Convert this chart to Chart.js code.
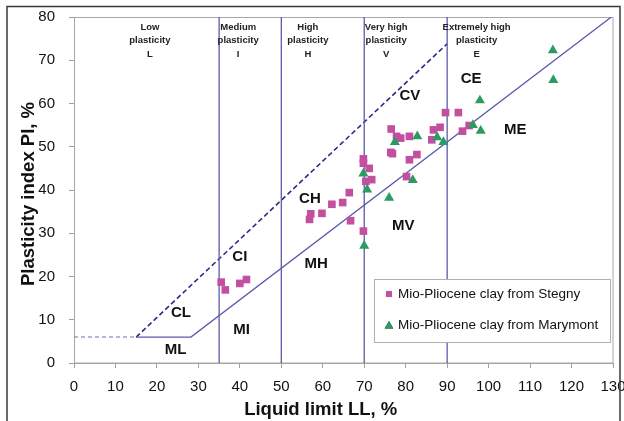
<!DOCTYPE html>
<html>
<head>
<title>Plasticity chart</title>
<script src="https://cdn.jsdelivr.net/npm/chart.js@4.4.0/dist/chart.umd.min.js"></script>
<style>
    body { margin: 0; background: #fff; }
    #wrap { width: 624px; height: 421px; }
</style>
</head>
<body>
<div id="wrap"><canvas id="plasticityChart" width="624" height="421"></canvas></div>
<script>
    // Stegny samples (liquid limit LL, plasticity index PI)
    const stegnyLL = [35.5, 36.5, 40.0, 41.6, 57.1, 56.8, 59.8, 62.2, 64.8, 66.4, 66.7, 69.8, 69.8, 71.2, 70.4, 71.8, 69.8,
        76.5, 77.8, 78.8, 80.9, 76.4, 76.8, 82.7, 80.9, 80.2, 86.7, 88.3, 86.3, 89.6, 92.7, 93.7, 95.3];
    const stegnyPI = [18.7, 16.9, 18.4, 19.3, 34.5, 33.2, 34.6, 36.7, 37.1, 39.4, 32.9, 47.2, 46.2, 45.0, 42.0, 42.4, 30.5,
        54.1, 52.4, 52.0, 52.4, 48.7, 48.4, 48.2, 47.0, 43.1, 53.9, 54.5, 51.6, 57.9, 57.9, 53.6, 54.9];

    // Marymont samples
    const marymontLL = [69.8, 70.7, 70.0, 76.0, 77.4, 82.8, 81.7, 87.6, 89.1, 96.2, 98.1, 97.9, 115.5, 115.6];
    const marymontPI = [43.8, 40.1, 27.1, 38.2, 51.1, 52.4, 42.3, 52.2, 51.1, 55.0, 53.7, 60.7, 72.3, 65.4];

    const seriesNames = ["Mio-Pliocene clay from Stegny", "Mio-Pliocene clay from Marymont"];

    // classification boundaries
    const zoneLimits = [35, 50, 70, 90];
    const aLineLL = [15, 28.2, 129.6];
    const aLinePI = [6, 6, 80];
    const baseLL = [0, 15];
    const basePI = [6, 6];
    const uLineLL = [15, 90];
    const uLinePI = [6, 73.8];

    const xTicks = [0, 10, 20, 30, 40, 50, 60, 70, 80, 90, 100, 110, 120, 130];
    const yTicks = [0, 10, 20, 30, 40, 50, 60, 70, 80];

    const zoneHeaders = [
        ["Low", "plasticity", "L"],
        ["Medium", "plasticity", "I"],
        ["High", "plasticity", "H"],
        ["Very high", "plasticity", "V"],
        ["Extremely high", "plasticity", "E"],
    ];
    const regionNames = ["CL", "ML", "CI", "MI", "CH", "MH", "CV", "MV", "CE", "ME"];

    const FONT = "Arial, 'Liberation Sans', sans-serif";
    const boundaryColor = "#5a5aaa";
    const toPoints = (xs, ys) => xs.map((v, i) => ({ x: v, y: ys[i] }));

    const lineSet = (data, color, width, dash) => ({
        type: "line",
        data: data,
        borderColor: color,
        borderWidth: width,
        borderDash: dash || [],
        pointRadius: 0,
        fill: false,
        order: 5,
    });

    const datasets = [
        {
            label: seriesNames[0],
            data: toPoints(stegnyLL, stegnyPI),
            pointStyle: "rect",
            pointRadius: 5.4,
            backgroundColor: "#c24fa0",
            borderColor: "#c24fa0",
            borderWidth: 0,
            order: 1,
        },
        {
            label: seriesNames[1],
            data: toPoints(marymontLL, marymontPI),
            pointStyle: "triangle",
            pointRadius: 5.8,
            backgroundColor: "#2c9a62",
            borderColor: "#2c9a62",
            borderWidth: 0,
            order: 0,
        },
    ];
    zoneLimits.forEach(ll => datasets.push(lineSet([{ x: ll, y: 0 }, { x: ll, y: 80 }], boundaryColor, 1.3)));
    datasets.push(lineSet(toPoints(aLineLL, aLinePI), boundaryColor, 1.3));
    datasets.push(lineSet(toPoints(baseLL, basePI), "#7070b8", 1.1, [4, 3]));
    datasets.push(lineSet(toPoints(uLineLL, uLinePI), "#2c2c86", 1.6, [5, 3]));

    // where the text labels sit, in LL / PI units
    const headerAt = [18.3, 39.6, 56.4, 75.3, 97.1];
    const regionAt = [[25.8, 11.5], [24.5, 3.1], [40.0, 24.5], [40.4, 7.6], [56.9, 38.0], [58.4, 23.0],
        [81.0, 61.8], [79.4, 31.8], [95.8, 65.8], [106.4, 54.0]];

    const overlay = {
        id: "overlay",
        beforeDatasetsDraw(chart) {
            const { ctx, chartArea: a } = chart;
            ctx.save();
            ctx.strokeStyle = "#a8a8a8";
            ctx.lineWidth = 1;
            ctx.strokeRect(a.left + 0.5, a.top + 0.5, a.right - a.left - 0.5, a.bottom - a.top - 0.5);
            ctx.restore();
        },
        afterDraw(chart) {
            const { ctx, chartArea: a, scales: { x, y } } = chart;
            ctx.save();

            // zone headers
            ctx.fillStyle = "#222";
            ctx.textAlign = "center";
            ctx.textBaseline = "middle";
            ctx.font = `bold 9.5px ${FONT}`;
            zoneHeaders.forEach((lines, i) => {
                const px = x.getPixelForValue(headerAt[i]);
                lines.forEach((t, j) => ctx.fillText(t, px, a.top + 10 + j * 13.5));
            });

            // region labels
            ctx.fillStyle = "#111";
            ctx.font = `bold 15px ${FONT}`;
            regionNames.forEach((t, i) => {
                ctx.fillText(t, x.getPixelForValue(regionAt[i][0]), y.getPixelForValue(regionAt[i][1]));
            });

            // axis titles
            ctx.font = `bold 18.5px ${FONT}`;
            ctx.textBaseline = "alphabetic";
            ctx.fillText("Liquid limit LL, %", x.getPixelForValue(59.5), 415);
            ctx.save();
            ctx.translate(34, (a.top + a.bottom) / 2 + 4);
            ctx.rotate(-Math.PI / 2);
            ctx.fillText("Plasticity index PI, %", 0, 0);
            ctx.restore();

            // legend
            const lx = a.right - 239, ly = a.bottom - 84, lw = 236, lh = 63;
            ctx.fillStyle = "#fff";
            ctx.fillRect(lx, ly, lw, lh);
            ctx.strokeStyle = "#b0b0b0";
            ctx.lineWidth = 1;
            ctx.strokeRect(lx + 0.5, ly + 0.5, lw, lh);
            ctx.font = `13.5px ${FONT}`;
            ctx.textAlign = "left";
            ctx.textBaseline = "middle";
            chart.data.datasets.slice(0, 2).forEach((ds, i) => {
                const cy = ly + 15 + i * 31;
                Chart.helpers.drawPoint(ctx, {
                    pointStyle: ds.pointStyle,
                    radius: ds.pointStyle === "rect" ? 4.3 : 5,
                    borderWidth: 0,
                    rotation: 0,
                }, lx + 15, cy + (i ? 1 : 0));
                ctx.fillStyle = ds.backgroundColor;
                ctx.fill();
                ctx.fillStyle = "#111";
                ctx.fillText(ds.label, lx + 24, cy);
            });

            // outer frame
            ctx.strokeStyle = "#3a3a3a";
            ctx.lineWidth = 1.5;
            ctx.strokeRect(7, 6.5, 613, 440);
            ctx.restore();
        },
    };

    const axisCommon = (min, max, ticks) => ({
        type: "linear",
        min: min,
        max: max,
        afterBuildTicks: scale => { scale.ticks = ticks.map(v => ({ value: v })); },
        grid: { drawOnChartArea: false, drawTicks: true, tickLength: 5, color: "#a0a0a0" },
        border: { display: true, color: "#a0a0a0" },
        ticks: { color: "#111", font: { family: FONT, size: 15 } },
    });

    // fixed scale boxes so the plot area lands where the original has it
    const noLabelPadding = scale => {
        scale.paddingLeft = 0;
        scale.paddingRight = 0;
        scale.paddingTop = 0;
        scale.paddingBottom = 0;
    };
    const xAxis = axisCommon(0, 130, xTicks);
    xAxis.ticks.padding = 10;
    xAxis.afterFit = scale => { scale.height = 58; noLabelPadding(scale); };
    const yAxis = axisCommon(0, 80, yTicks);
    yAxis.ticks.padding = 14;
    yAxis.afterFit = scale => { scale.width = 60; noLabelPadding(scale); };

    new Chart(document.getElementById("plasticityChart"), {
        type: "scatter",
        data: { datasets: datasets },
        options: {
            responsive: false,
            animation: false,
            devicePixelRatio: 1,
            layout: { padding: { left: 14, right: 11, top: 17, bottom: 0 } },
            plugins: { legend: { display: false }, tooltip: { enabled: false } },
            scales: { x: xAxis, y: yAxis },
        },
        plugins: [overlay],
    });
</script>
</body>
</html>
